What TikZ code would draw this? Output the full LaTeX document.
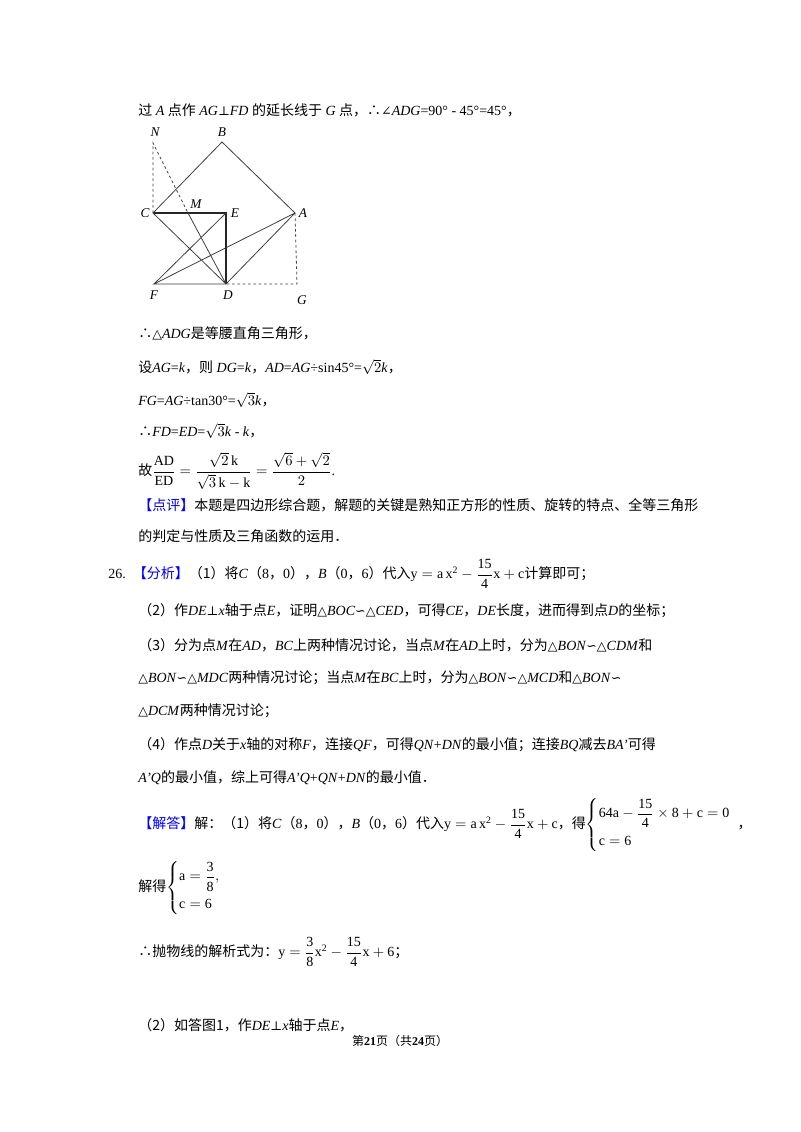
\documentclass[tikz,border=0pt]{standalone}
\usepackage{amsmath}
\usepackage{fontspec}
\setmainfont{Liberation Serif}
\newfontfamily\cjk{Noto Sans CJK SC}
\newfontfamily\symf{DejaVu Serif}
\newcommand{\zh}[1]{{\cjk #1}}
\newcommand{\vi}[1]{\textit{#1}}
\newcommand{\sy}[1]{{\symf\fontsize{9.5}{12}\selectfont #1}}
\begin{document}
\begin{tikzpicture}[x=0.75pt,y=-0.75pt,
  txt/.style={anchor=west,inner sep=0pt,font=\fontsize{10.5}{13}\selectfont},
  full/.style={txt,text width=408pt,align=justify},
  lab/.style={font=\fontsize{10}{12}\selectfont\itshape,inner sep=0pt},
  seg/.style={line width=0.6pt,black!75},
  dsh/.style={seg,dashed,dash pattern=on 2pt off 2pt}]
\path[use as bounding box,fill=white] (0,0) rectangle (800,1132);
% figure
\coordinate (N) at (153,143); \coordinate (B) at (222,142);
\coordinate (C) at (153,213); \coordinate (E) at (226,213);
\coordinate (A) at (295,213); \coordinate (F) at (154,284);
\coordinate (D) at (226,284); \coordinate (G) at (297,284);
\coordinate (M) at (188,213);
\draw[seg] (C)--(B)--(A)--(D)--(F)--(A);
\draw[line width=0.9pt,black!85] (C)--(E)--(D);
\draw[seg] (C)--(D) (F)--(E) (M)--(D);
\draw[dsh] (C)--(N)--(M) (A)--(G)--(D);
\node[lab] (lN) at (155,132) {N}; \node[lab] (lB) at (222,132) {B};
\node[lab] (lC) at (145,213) {C}; \node[lab] (lM) at (196,204) {M};
\node[lab] (lE) at (235,213) {E}; \node[lab] (lA) at (303,213) {A};
\node[lab] (lF) at (154,295) {F}; \node[lab] (lD) at (228,295) {D};
\node[lab] (lG) at (302,300) {G};
% text
\node[txt] (t1) at (138,110) {\zh{过} \vi{A} \zh{点作} \vi{AG}\sy{⊥}\vi{FD} \zh{的延长线于} \vi{G} \zh{点，∴}\sy{∠}\vi{ADG}=90° - 45°=45°\zh{，}};
\node[txt] (t2) at (138,333) {\zh{∴}\sy{△}\vi{ADG}\zh{是等腰直角三角形，}};
\node[txt] (t3) at (138,367) {\zh{设}\vi{AG}=\vi{k}\zh{，则} \vi{DG}=\vi{k}\zh{，}\vi{AD}=\vi{AG}÷sin45°=$\sqrt{2}$\vi{k}\zh{，}};
\node[txt] (t4) at (138,400) {\vi{FG}=\vi{AG}÷tan30°=$\sqrt{3}$\vi{k}\zh{，}};
\node[txt] (t5) at (138,431) {\zh{∴}\vi{FD}=\vi{ED}=$\sqrt{3}$\vi{k} - \vi{k}\zh{，}};
\node[txt] (t6) at (138,471) {\zh{故}$\dfrac{\mathrm{AD}}{\mathrm{ED}}=\dfrac{\sqrt{2}\,\mathrm{k}}{\sqrt{3}\,\mathrm{k-k}}=\dfrac{\sqrt{6}+\sqrt{2}}{2}$.};
\node[full] (t7) at (138,505) {\zh{\textcolor{blue}{【点评】}本题是四边形综合题，解题的关键是熟知正方形的性质、旋转的特点、全等三角形}};
\node[txt] (t8) at (138,536) {\zh{的判定与性质及三角函数的运用．}};
\node[txt] (t9) at (108,574) {26.\ \ \zh{\textcolor{blue}{【分析】}（1）将}\vi{C}\zh{（}8\zh{，}0\zh{），}\vi{B}\zh{（}0\zh{，}6\zh{）代入}$\mathrm{y=a\,x^2-\dfrac{15}{4}x+c}$\zh{计算即可；}};
\node[txt] (t10) at (138,611) {\zh{（2）作}\vi{DE}\sy{⊥}\vi{x}\zh{轴于点}\vi{E}\zh{，证明}\sy{△}\vi{BOC}\sy{∽}\sy{△}\vi{CED}\zh{，可得}\vi{CE}\zh{，}\vi{DE}\zh{长度，进而得到点}\vi{D}\zh{的坐标；}};
\node[full] (t11) at (138,645) {\zh{（3）分为点}\vi{M}\zh{在}\vi{AD}\zh{，}\vi{BC}\zh{上两种情况讨论，当点}\vi{M}\zh{在}\vi{AD}\zh{上时，分为}\sy{△}\vi{BON}\sy{∽}\sy{△}\vi{CDM}\zh{和}};
\node[full] (t12) at (138,678) {\sy{△}\vi{BON}\sy{∽}\sy{△}\vi{MDC}\zh{两种情况讨论；当点}\vi{M}\zh{在}\vi{BC}\zh{上时，分为}\sy{△}\vi{BON}\sy{∽}\sy{△}\vi{MCD}\zh{和}\sy{△}\vi{BON}\sy{∽}};
\node[txt] (t13) at (138,711) {\sy{△}\vi{DCM}\zh{两种情况讨论；}};
\node[full] (t14) at (138,745) {\zh{（4）作点}\vi{D}\zh{关于}\vi{x}\zh{轴的对称}\vi{F}\zh{，连接}\vi{QF}\zh{，可得}\vi{QN}+\vi{DN}\zh{的最小值；连接}\vi{BQ}\zh{减去}\vi{BA'}\zh{可得}};
\node[txt] (t15) at (138,778) {\vi{A'Q}\zh{的最小值，综上可得}\vi{A'Q}+\vi{QN}+\vi{DN}\zh{的最小值．}};
\node[txt] (t16) at (138,825) {\zh{\textcolor{blue}{【解答】}解：（1）将}\vi{C}\zh{（}8\zh{，}0\zh{），}\vi{B}\zh{（}0\zh{，}6\zh{）代入}$\mathrm{y=a\,x^2-\dfrac{15}{4}x+c}$\zh{，得}$\left\{\begin{array}{@{}l}\mathrm{64a-\dfrac{15}{4}\times 8+c=0}\\[8pt] \mathrm{c=6}\end{array}\right.$\zh{，}};
\node[txt] (t17) at (138,888) {\zh{解得}$\left\{\begin{array}{@{}l}\mathrm{a=\dfrac{3}{8}},\\[8pt] \mathrm{c=6}\end{array}\right.$};
\node[txt] (t18) at (138,952) {\zh{∴抛物线的解析式为：}$\mathrm{y=\dfrac{3}{8}x^2-\dfrac{15}{4}x+6}$\zh{；}};
\node[txt] (t19) at (138,1025) {\zh{（2）如答图1，作}\vi{DE}\sy{⊥}\vi{x}\zh{轴于点}\vi{E}\zh{，}};
\node[txt,anchor=center,font=\fontsize{9}{11}\selectfont] (t20) at (400,1041) {\zh{第}\textbf{21}\zh{页（共}\textbf{24}\zh{页）}};
\end{tikzpicture}
\end{document}
